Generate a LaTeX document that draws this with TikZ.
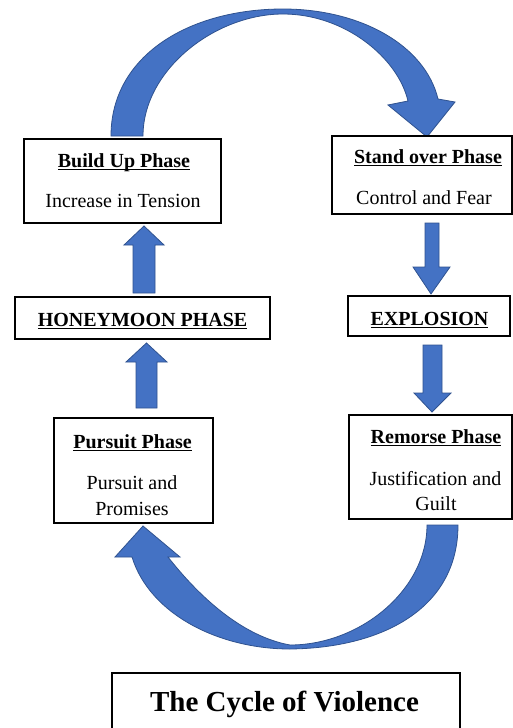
\documentclass[tikz,border=0pt]{standalone}
\usepackage{fontspec}
\setmainfont{Liberation Serif}
\definecolor{arrowblue}{RGB}{68,114,196}
\definecolor{arrowedge}{RGB}{47,82,143}
\newcommand\myul[1]{\setbox0\hbox{#1}\rlap{\rule[-3.2pt]{\wd0}{1.3pt}}\box0}
\tikzset{
  phasebox/.style={draw=black,line width=2.6pt,inner sep=0pt,fill=white},
  ptext/.style={anchor=base,inner sep=0pt,font=\fontsize{20}{24}\selectfont},
  htext/.style={anchor=base,inner sep=0pt,font=\fontsize{20}{24}\selectfont\bfseries},
  blockarrow/.style={fill=arrowblue,draw=arrowedge,line width=0.8pt,line join=miter},
}
\begin{document}
\begin{tikzpicture}[x=1pt,y=-1pt]
\useasboundingbox (0,0) rectangle (513,728);
\fill[white] (0,0) rectangle (513,728);

% curved arrows
\path[blockarrow] (111,136) .. controls (111,55) and (190,9) .. (283,9)
  .. controls (360,9) and (425,45) .. (438,99) -- (455,102) -- (427,137) -- (388,105) -- (408,101)
  .. controls (398,58) and (345,14) .. (283,14)
  .. controls (215,14) and (143,70) .. (143,136) -- cycle;
\path[blockarrow] (458,525) .. controls (458,610) and (380,648) .. (290,649)
  .. controls (220,649) and (150,615) .. (132,557) -- (115,557) -- (143,526) -- (180,557) -- (168,557)
  .. controls (190,585) and (235,635) .. (290,645)
  .. controls (360,645) and (427,590) .. (427,525) -- cycle;

% boxes
\node[phasebox,minimum width=197pt,minimum height=84pt] (buildup) at (122.5,181) {};
\node[phasebox,minimum width=180pt,minimum height=78pt] (standover) at (422,175) {};
\node[phasebox,minimum width=255pt,minimum height=42pt] (honey) at (142.5,318) {};
\node[phasebox,minimum width=162pt,minimum height=40pt] (explosion) at (429,316) {};
\node[phasebox,minimum width=159pt,minimum height=105pt] (pursuit) at (133.5,470.5) {};
\node[phasebox,minimum width=163pt,minimum height=104pt] (remorse) at (430.5,467) {};
\node[draw=black,line width=1.5pt,inner sep=0pt,minimum width=348pt,minimum height=80pt,anchor=north west] (titlebox) at (111,672) {};

% straight block arrows
\path[blockarrow] (133,293) -- (133,245) -- (124,245) -- (144,226) -- (164,245) -- (155,245) -- (155,293) -- cycle;
\path[blockarrow] (136,408) -- (136,362) -- (126,362) -- (146.5,343) -- (167,362) -- (157,362) -- (157,408) -- cycle;
\path[blockarrow] (425,223) -- (425,267) -- (413,267) -- (431,294) -- (450,267) -- (439,267) -- (439,223) -- cycle;
\path[blockarrow] (423,345) -- (423,393) -- (414,393) -- (432,412) -- (451,393) -- (442,393) -- (442,345) -- cycle;

% texts
\node[htext] (t1) at (124,167) {\myul{Build Up Phase}};
\node[ptext] (t2) at (123,207) {Increase in Tension};
\node[htext] (t3) at (428,163) {\myul{Stand over Phase}};
\node[ptext] (t4) at (424,204) {Control and Fear};
\node[htext] (t5) at (142.5,326) {\myul{HONEYMOON PHASE}};
\node[htext] (t6) at (429.5,325) {\myul{EXPLOSION}};
\node[htext] (t7) at (132.5,448) {\myul{Pursuit Phase}};
\node[ptext] (t8) at (132,489) {Pursuit and};
\node[ptext] (t9) at (132,515) {Promises};
\node[htext] (t10) at (436,443) {\myul{Remorse Phase}};
\node[ptext] (t11) at (435.5,485) {Justification and};
\node[ptext] (t12) at (436,510) {Guilt};
\node[anchor=base,inner sep=0pt,font=\fontsize{29}{34}\selectfont\bfseries] (title) at (284.5,711) {The Cycle of Violence};
\end{tikzpicture}
\end{document}
